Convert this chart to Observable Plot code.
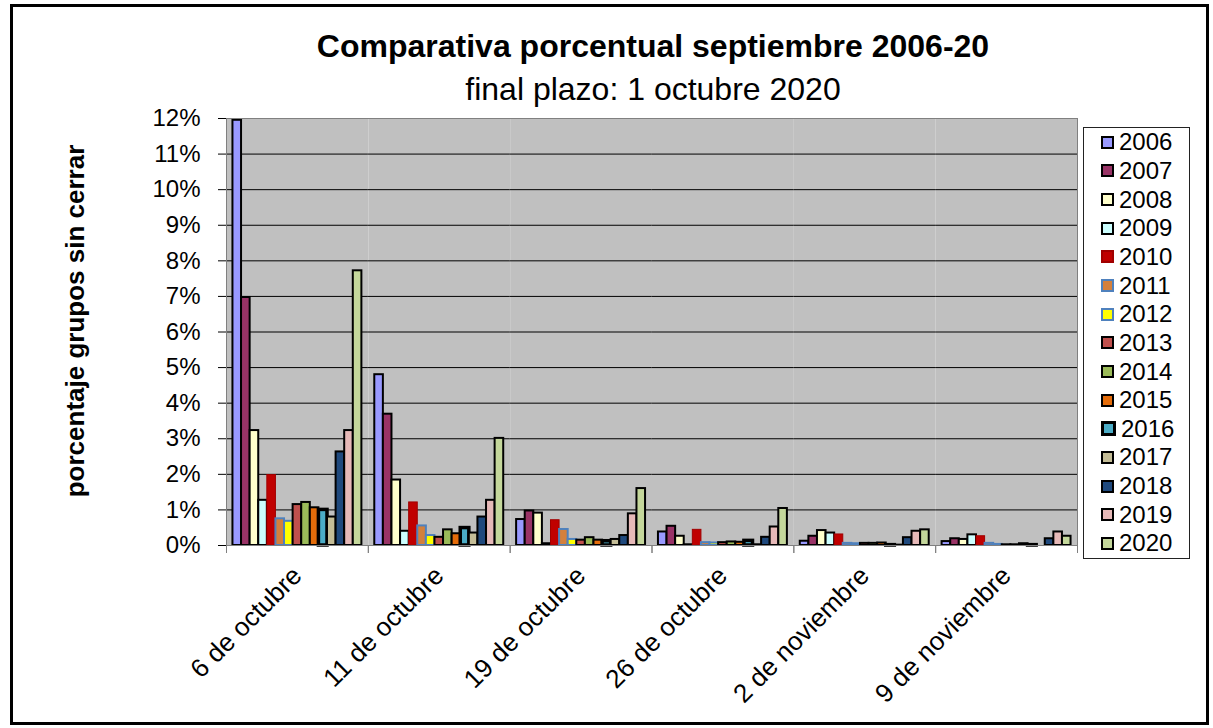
<!DOCTYPE html>
<html>
<head>
<meta charset="utf-8">
<script src="https://cdn.jsdelivr.net/npm/d3@7"></script>
<script src="https://cdn.jsdelivr.net/npm/@observablehq/plot@0.6"></script>
<style>
  html, body { margin: 0; padding: 0; background: #fff; }
  #wrap { position: relative; width: 1213px; height: 728px; overflow: hidden; font-family: "Liberation Sans", Arial, sans-serif; color: #000; }
  #border { position: absolute; left: 10px; top: 4px; width: 1199px; height: 721px; border: 3px solid #000; box-sizing: border-box; pointer-events: none; }
  .title { position: absolute; left: 0; width: 1306px; text-align: center; white-space: nowrap; line-height: 32px; font-size: 32px; }
  #title { top: 30px; font-weight: bold; }
  #subtitle { top: 73px; }
  #ylabel { position: absolute; left: 75px; top: 321px; transform: translate(-50%, -50%) rotate(-90deg); font-weight: bold; font-size: 26px; white-space: nowrap; }
  #legend { position: absolute; left: 1083px; top: 127px; width: 107px; height: 432px; border: 1px solid #222; box-sizing: border-box; background: #fff; }
  .item { position: absolute; left: 17px; height: 28.65px; display: flex; align-items: center; font-size: 24px; }
  .sw { width: 9px; height: 9px; margin-right: 5px; }
  #chart { position: absolute; left: 0; top: 0; }
</style>
</head>
<body>
<div id="wrap">
  <div id="chart"></div>
  <div class="title" id="title">Comparativa porcentual septiembre 2006-20</div>
  <div class="title" id="subtitle">final plazo: 1 octubre 2020</div>
  <div id="ylabel">porcentaje grupos sin cerrar</div>
  <div id="legend"></div>
  <div id="border"></div>
</div>
<script>
const groups = ["6 de octubre", "11 de octubre", "19 de octubre", "26 de octubre", "2 de noviembre", "9 de noviembre"];
const years = ["2006","2007","2008","2009","2010","2011","2012","2013","2014","2015","2016","2017","2018","2019","2020"];

// percentage of groups not closed, per year, one value per group
const v2006 = [11.95, 4.80, 0.73, 0.38, 0.12, 0.11];
const v2007 = [6.97, 3.69, 0.97, 0.54, 0.26, 0.19];
const v2008 = [3.23, 1.84, 0.91, 0.26, 0.42, 0.17];
const v2009 = [1.27, 0.40, 0.05, 0.02, 0.35, 0.30];
const v2010 = [1.98, 1.21, 0.71, 0.44, 0.31, 0.26];
const v2011 = [0.75, 0.55, 0.45, 0.08, 0.06, 0.06];
const v2012 = [0.68, 0.28, 0.17, 0.07, 0.05, 0.03];
const v2013 = [1.15, 0.23, 0.15, 0.08, 0.06, 0.02];
const v2014 = [1.21, 0.44, 0.22, 0.10, 0.06, 0.02];
const v2015 = [1.06, 0.33, 0.15, 0.09, 0.07, 0.05];
const v2016 = [1.00, 0.49, 0.12, 0.13, 0.01, 0.01];
const v2017 = [0.80, 0.35, 0.17, 0.02, 0.01, 0.00];
const v2018 = [2.63, 0.80, 0.28, 0.23, 0.22, 0.19];
const v2019 = [3.23, 1.27, 0.89, 0.52, 0.40, 0.38];
const v2020 = [7.72, 3.01, 1.60, 1.04, 0.44, 0.26];
const series = [v2006, v2007, v2008, v2009, v2010, v2011, v2012, v2013, v2014, v2015, v2016, v2017, v2018, v2019, v2020];

const fills   = ["#9999FF","#993366","#FFFFCC","#CCFFFF","#C00000","#D4803C","#FFFF00","#C0504D","#9BBB59","#E46C0A","#4BACC6","#C4BD97","#1F497D","#E6B9B8","#C4D79B"];
const strokes = ["#000","#000","#000","#000","#A00000","#4F81BD","#4F81BD","#000","#000","#000","#000","#000","#000","#000","#000"];
const strokeWidths = [2,2,2,2,1,2,2,2,2,2,3.5,2,2,2,2];
const yTicks = [0,1,2,3,4,5,6,7,8,9,10,11,12];

const data = [];
years.forEach((yr, i) => {
  groups.forEach((g, j) => {
    data.push({group: g, year: yr, value: series[i][j], fill: fills[i], stroke: strokes[i], sw: strokeWidths[i]});
  });
});

const W = 1213, H = 728, mL = 226, mR = 136, mT = 118, mB = 183;
const facetHalf = (W - mL - mR) / groups.length / 2; // offset so category ticks sit on group boundaries

const chart = Plot.plot({
  width: W,
  height: H,
  marginLeft: mL,
  marginTop: mT,
  marginRight: mR,
  marginBottom: mB,
  style: {background: "transparent", fontFamily: "'Liberation Sans', Arial, sans-serif", fontSize: "24px", color: "#000", overflow: "visible"},
  fx: {domain: groups, padding: 0, round: false, label: null},
  x: {domain: years, paddingInner: 0, paddingOuter: 0.75, round: false, axis: null},
  y: {domain: [0, 12], ticks: yTicks, tickFormat: d => d + "%", tickSize: 8, tickPadding: 18, label: null},
  marks: [
    Plot.frame({fill: "#C0C0C0"}),
    Plot.ruleY(yTicks, {stroke: "#000", strokeWidth: 1}),
    Plot.barY(data, {fx: "group", x: "year", y: "value", fill: d => d.fill, stroke: d => d.stroke, strokeWidth: d => d.sw}),
    Plot.frame({facet: "super", stroke: "#808080"}),
    Plot.axisFx({anchor: "bottom", label: null, tickSize: 8, tickFormat: () => "", dx: -facetHalf, stroke: "#808080"}),
    Plot.axisFx([groups[groups.length - 1]], {anchor: "bottom", label: null, tickSize: 8, tickFormat: () => "", dx: facetHalf, stroke: "#808080"}),
    Plot.axisFx({anchor: "bottom", label: null, tickRotate: -45, tickSize: 0, tickPadding: 26, fontSize: 26})
  ]
});
document.getElementById("chart").appendChild(chart);

const legend = document.getElementById("legend");
years.forEach((yr, i) => {
  const it = document.createElement("div");
  it.className = "item";
  it.style.top = (i * 28.65) + "px";
  const sw = document.createElement("span");
  sw.className = "sw";
  sw.style.background = fills[i];
  sw.style.border = (i === 10 ? 3 : 2) + "px solid " + (i === 5 || i === 6 ? "#4F81BD" : (i === 4 ? "#A00000" : "#000"));
  it.appendChild(sw);
  const tx = document.createElement("span");
  tx.textContent = yr;
  it.appendChild(tx);
  legend.appendChild(it);
});
</script>
</body>
</html>
